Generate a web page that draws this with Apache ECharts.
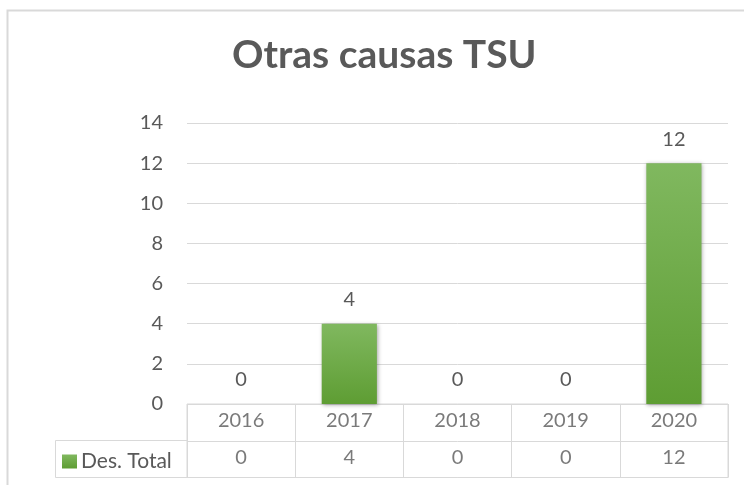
<!DOCTYPE html>
<html>
<head>
<meta charset="utf-8">
<script src="https://cdn.jsdelivr.net/npm/echarts@6/dist/echarts.min.js"></script>
<style>
  html, body { margin: 0; padding: 0; background: #fff; }
  #main { width: 744px; height: 485px; }
</style>
</head>
<body>
<div id="main"></div>
<script>
const years = ['2016', '2017', '2018', '2019', '2020']
const desTotal = [0, 4, 0, 0, 12]
const seriesName = 'Des. Total'

const textColor = '#595959'
const lineColor = '#d9d9d9'
const font = 'Lato, "Open Sans", sans-serif'
const fs = 20

const chart = echarts.init(document.getElementById('main'), null, { renderer: 'canvas' })

const barColor = new echarts.graphic.LinearGradient(0, 0, 0, 1, [
    { offset: 0, color: '#80b85f' },
    { offset: 1, color: '#5e9d33' }
])

// table cells: first row = years, second row = values
let cellData = []
years.forEach((y, i) => {
    cellData.push({ value: [i, 0], label: { formatter: y } })
    cellData.push({ value: [i, 1], label: { formatter: String(desTotal[i]) } })
})

let option = {
    backgroundColor: '#fff',
    textStyle: { fontFamily: font },
    title: {
        text: 'Otras causas TSU',
        left: 232,
        top: 36,
        padding: 0,
        textStyle: { fontSize: 39, fontWeight: 'bold', color: textColor, fontFamily: font }
    },
    legend: {
        data: [seriesName],
        left: 62,
        top: 451,
        padding: 0,
        itemWidth: 15,
        itemHeight: 14,
        itemGap: 5,
        icon: 'rect',
        textStyle: { fontSize: 21, color: textColor, fontFamily: font, padding: [0, 0, 0, -1] }
    },
    grid: [
        { left: 187, right: 16, top: 123, bottom: 81 },
        { left: 187, right: 16, top: 404, height: 73.5, show: true, borderColor: lineColor, borderWidth: 1 }
    ],
    xAxis: [
        {
            gridIndex: 0,
            type: 'category',
            data: years,
            axisLine: { show: false },
            axisTick: { show: false },
            axisLabel: { show: false }
        },
        {
            gridIndex: 1,
            type: 'category',
            data: years,
            axisLine: { show: false },
            axisTick: { show: false },
            axisLabel: { show: false },
            splitLine: { show: true, lineStyle: { color: lineColor, width: 1 } }
        }
    ],
    yAxis: [
        {
            gridIndex: 0,
            type: 'value',
            min: 0,
            max: 14,
            interval: 2,
            axisLine: { show: false },
            axisTick: { show: false },
            axisLabel: { fontSize: fs, color: textColor, margin: 24, fontFamily: font },
            splitLine: { lineStyle: { color: lineColor, width: 1 } }
        },
        {
            gridIndex: 1,
            type: 'category',
            data: ['years', 'values'],
            inverse: true,
            axisLine: { show: false },
            axisTick: { show: false },
            axisLabel: { show: false },
            splitLine: { show: true, lineStyle: { color: lineColor, width: 1 } }
        }
    ],
    series: [
        {
            name: seriesName,
            type: 'bar',
            xAxisIndex: 0,
            yAxisIndex: 0,
            data: desTotal,
            barWidth: '51%',
            itemStyle: {
                color: barColor,
                shadowBlur: 4,
                shadowColor: 'rgba(0,0,0,0.35)',
                shadowOffsetX: 1,
                shadowOffsetY: 1
            },
            label: {
                show: true,
                position: 'top',
                distance: 14,
                fontSize: fs,
                color: textColor,
                fontFamily: font
            }
        },
        {
            name: 'table',
            type: 'scatter',
            xAxisIndex: 1,
            yAxisIndex: 1,
            symbolSize: 0,
            silent: true,
            data: cellData,
            label: {
                show: true,
                position: 'inside',
                offset: [0, -1.5],
                fontSize: fs,
                color: textColor,
                fontFamily: font
            }
        }
    ],
    graphic: [
        {
            type: 'rect',
            shape: { x: 7.5, y: 10.5, width: 800, height: 600 },
            style: { fill: 'none', stroke: lineColor, lineWidth: 2 },
            silent: true
        },
        {
            type: 'polyline',
            shape: { points: [[187, 440.5], [55.5, 440.5], [55.5, 477.5], [187, 477.5]] },
            style: { fill: 'none', stroke: lineColor, lineWidth: 1 },
            silent: true
        }
    ]
}

chart.setOption(option)
</script>
</body>
</html>
